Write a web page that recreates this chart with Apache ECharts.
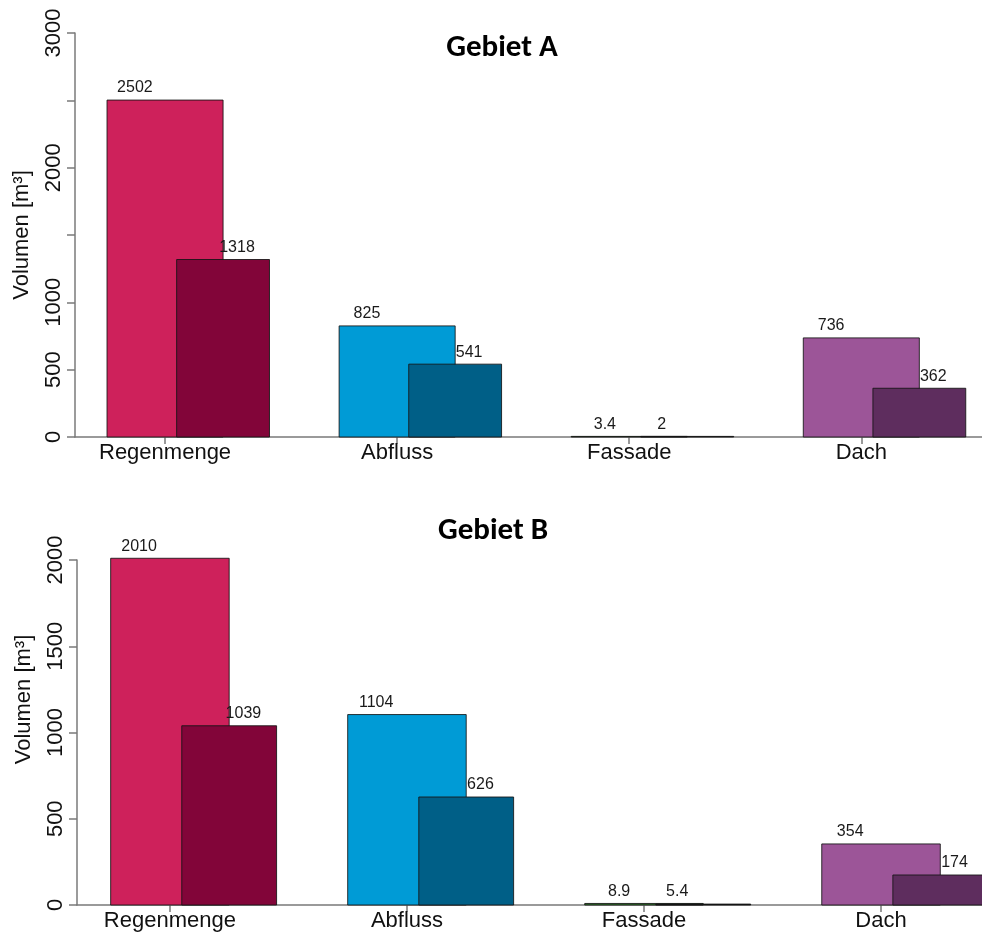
<!DOCTYPE html>
<html>
<head>
<meta charset="utf-8">
<script src="https://cdn.jsdelivr.net/npm/echarts@6/dist/echarts.min.js"></script>
<style>
html,body{margin:0;padding:0;background:#fff;}
#chart{width:982px;height:938px;}
</style>
</head>
<body>
<div id="chart"></div>
<script>
// ---- data ----
const categories = ['Regenmenge', 'Abfluss', 'Fassade', 'Dach'];
const gebietA_gesamt = [2502, 825, 3.4, 736];
const gebietA_anteil = [1318, 541, 2, 362];
const gebietB_gesamt = [2010, 1104, 8.9, 354];
const gebietB_anteil = [1039, 626, 5.4, 174];
const yTicksA = [0, 500, 1000, 1500, 2000, 2500, 3000];
const yTickLabelsA = ['0', '500', '1000', '', '2000', '', '3000'];
const yTicksB = [0, 500, 1000, 1500, 2000];
const yTickLabelsB = ['0', '500', '1000', '1500', '2000'];
const titles = ['Gebiet A', 'Gebiet B'];
const yName = 'Volumen [m³]';

// ---- style ----
const backColors = ['#CE215B', '#009BD6', '#2F7A2A', '#9C5598'];
const frontColors = ['#820539', '#005F87', '#1A1A1A', '#5E2D5E'];
const backSpan = [-0.25, 0.25];
const frontSpan = [0.05, 0.45];
const labelPos = [[-0.13, 0.31], [-0.13, 0.31], [-0.105, 0.14], [-0.13, 0.31]];
const axisFont = '"Liberation Sans", Arial, sans-serif';
const axisFontSize = 22;
const axisColor = '#7a7a7a';

function barSeries(vals, gridIdx, colors, span, front) {
  return {
    type: 'custom',
    xAxisIndex: gridIdx, yAxisIndex: gridIdx,
    clip: false,
    data: vals.map((v, i) => [i + 1, v, i]),
    renderItem: function (params, api) {
      const x = api.value(0), y = api.value(1), idx = api.value(2);
      const p0 = api.coord([x + span[0], 0]);
      const p1 = api.coord([x + span[1], y]);
      let h = p0[1] - p1[1];
      if (h < 0.6) h = 0.6;
      const lp = api.coord([x + labelPos[idx][front ? 1 : 0], y]);
      return {
        type: 'group',
        children: [
          {
            type: 'rect',
            shape: { x: p0[0], y: p0[1] - h, width: p1[0] - p0[0], height: h },
            style: { fill: colors[idx], stroke: 'rgba(20,20,20,0.85)', lineWidth: 1 }
          },
          {
            type: 'text',
            z2: 10,
            style: {
              text: String(y), x: lp[0], y: p0[1] - h - 4,
              align: 'center', verticalAlign: 'bottom',
              font: '16px "Liberation Sans", Arial, sans-serif', fill: '#1a1a1a'
            }
          }
        ]
      };
    }
  };
}

function xAxisCfg(gridIdx, min, max) {
  return {
    type: 'value', gridIndex: gridIdx, min: min, max: max,
    splitLine: { show: false },
    axisLine: { show: true, onZero: false, lineStyle: { color: axisColor, width: 1.5 } },
    axisTick: { show: true, customValues: [1, 2, 3, 4], length: 7, lineStyle: { color: axisColor, width: 1.5 } },
    axisLabel: {
      show: true, customValues: [1, 2, 3, 4], margin: 5,
      formatter: v => categories[Math.round(v) - 1] || '',
      fontFamily: axisFont, fontSize: axisFontSize, color: '#111'
    }
  };
}

function yAxisCfg(gridIdx, max, ticks, labels, namePad) {
  return {
    type: 'value', gridIndex: gridIdx, min: 0, max: max, interval: 500,
    splitLine: { show: false },
    axisLine: { show: true, lineStyle: { color: axisColor, width: 1.5 } },
    axisTick: { show: true, length: 8, lineStyle: { color: axisColor, width: 1.5 } },
    axisLabel: {
      show: true, rotate: 90, margin: 10,
      formatter: v => { const k = ticks.indexOf(v); return k >= 0 ? labels[k] : ''; },
      fontFamily: axisFont, fontSize: axisFontSize, color: '#111'
    },
    name: yName, nameLocation: 'middle', nameRotate: 90, nameGap: 42,
    nameTextStyle: { fontFamily: axisFont, fontSize: axisFontSize, color: '#111', padding: namePad }
  };
}

const chart = echarts.init(document.getElementById('chart'), null, { renderer: 'canvas' });
chart.setOption({
  animation: false,
  backgroundColor: '#ffffff',
  title: [
    { text: titles[0], left: 497, top: 28, textAlign: 'center',
      textStyle: { fontFamily: 'Carlito, Lato, sans-serif', fontWeight: 'bold', fontSize: 31, color: '#000' } },
    { text: titles[1], left: 488, top: 511, textAlign: 'center',
      textStyle: { fontFamily: 'Carlito, Lato, sans-serif', fontWeight: 'bold', fontSize: 31, color: '#000' } }
  ],
  grid: [
    { left: 75, right: 0, top: 33, bottom: 501 },
    { left: 77, right: 0, top: 560, bottom: 33 }
  ],
  xAxis: [xAxisCfg(0, 0.612, 4.52), xAxisCfg(1, 0.608, 4.426)],
  yAxis: [
    yAxisCfg(0, 3000, yTicksA, yTickLabelsA, [0, 0, 0, 0]),
    yAxisCfg(1, 2000, yTicksB, yTickLabelsB, [0, 0, 0, 66])
  ],
  series: [
    barSeries(gebietA_gesamt, 0, backColors, backSpan, false),
    barSeries(gebietA_anteil, 0, frontColors, frontSpan, true),
    barSeries(gebietB_gesamt, 1, backColors, backSpan, false),
    barSeries(gebietB_anteil, 1, frontColors, frontSpan, true)
  ]
});
</script>
</body>
</html>
